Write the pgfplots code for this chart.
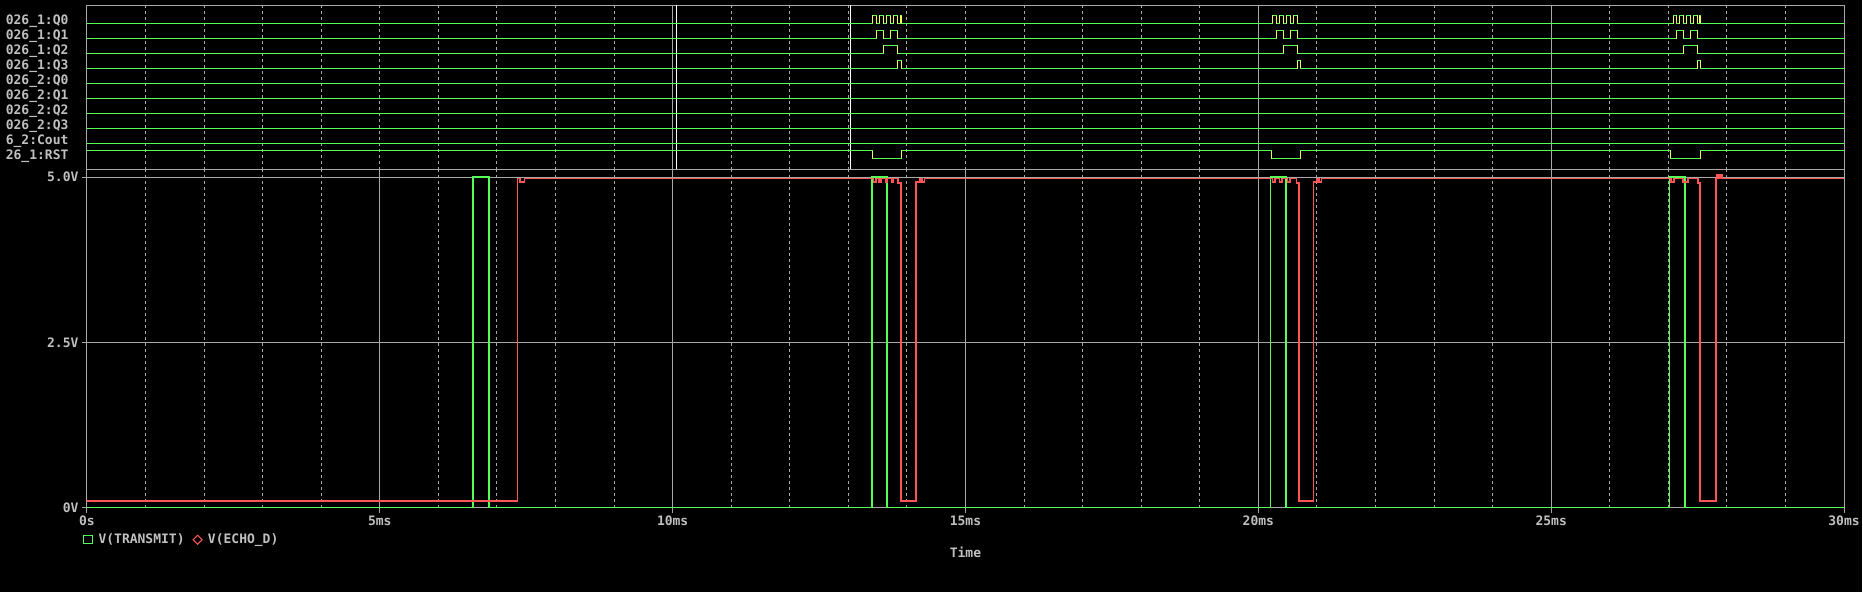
\documentclass[border=0pt]{standalone}
\usepackage{pgfplots}
\pgfplotsset{compat=1.18}
\usepackage{pgfplotstable}
\usepackage{fontspec}
\setmainfont{DejaVu Sans Mono}
\definecolor{tgreen}{RGB}{85,255,85}
\definecolor{tred}{RGB}{255,85,85}
\definecolor{tyellow}{RGB}{240,255,80}
\definecolor{tgray}{RGB}{168,168,168}
\definecolor{tlabel}{RGB}{192,192,192}

% digital signals: time (ms) and row level (picture rows)
\pgfplotstableread[row sep=\\]{t y\\
0 23.3\\ 13.418 15.3\\ 13.481 23.3\\ 13.538 15.3\\ 13.606 23.3\\ 13.657 15.3\\ 13.720 23.3\\ 13.777 15.3\\ 13.840 23.3\\ 13.896 15.3\\ 13.908 23.3\\
20.244 15.3\\ 20.312 23.3\\ 20.364 15.3\\ 20.432 23.3\\ 20.483 15.3\\ 20.551 23.3\\ 20.602 15.3\\ 20.660 23.3\\
27.087 15.3\\ 27.138 23.3\\ 27.190 15.3\\ 27.258 23.3\\ 27.309 15.3\\ 27.377 23.3\\ 27.429 15.3\\ 27.497 23.3\\ 27.540 15.3\\ 27.548 23.3\\ 30 23.3\\}\qzero
\pgfplotstableread[row sep=\\]{t y\\
0 38.3\\ 13.481 30.3\\ 13.606 38.3\\ 13.720 30.3\\ 13.840 38.3\\
20.312 30.3\\ 20.432 38.3\\ 20.551 30.3\\ 20.660 38.3\\
27.138 30.3\\ 27.258 38.3\\ 27.377 30.3\\ 27.497 38.3\\ 30 38.3\\}\qone
\pgfplotstableread[row sep=\\]{t y\\
0 53.3\\ 13.606 45.3\\ 13.840 53.3\\ 20.432 45.3\\ 20.660 53.3\\ 27.258 45.3\\ 27.497 53.3\\ 30 53.3\\}\qtwo
\pgfplotstableread[row sep=\\]{t y\\
0 68.3\\ 13.840 60.3\\ 13.908 68.3\\ 20.660 60.3\\ 20.712 68.3\\ 27.497 60.3\\ 27.548 68.3\\ 30 68.3\\}\qthree
\pgfplotstableread[row sep=\\]{t y\\
0 150.7\\ 13.418 158.3\\ 13.913 150.7\\ 20.227 158.3\\ 20.712 150.7\\ 27.036 158.3\\ 27.548 150.7\\ 30 150.7\\}\rst

% analog signals
\pgfplotstableread[row sep=\\]{t v\\
0 0\\ 6.59 0\\ 6.59 5\\ 6.87 5\\ 6.87 0\\ 13.40 0\\ 13.40 5\\ 13.66 5\\ 13.66 0\\
20.21 0\\ 20.21 5\\ 20.47 5\\ 20.47 0\\ 27.02 0\\ 27.02 5\\ 27.28 5\\ 27.28 0\\ 30 0\\}\transmit
\pgfplotstableread[row sep=\\]{t v\\
0 0.1\\ 7.35 0.1\\ 7.35 4.98\\ 7.39 4.98\\ 7.39 4.93\\ 7.47 4.93\\ 7.47 4.98\\
13.43 4.98\\ 13.43 4.93\\ 13.47 4.93\\ 13.47 4.98\\ 13.52 4.98\\ 13.52 4.93\\ 13.56 4.93\\ 13.56 4.98\\
13.64 4.98\\ 13.64 4.93\\ 13.67 4.93\\ 13.67 4.98\\ 13.74 4.98\\ 13.74 4.93\\ 13.77 4.93\\ 13.77 4.98\\
13.85 4.98\\ 13.85 4.91\\ 13.90 4.91\\ 13.90 0.1\\ 14.16 0.1\\ 14.16 4.93\\ 14.22 4.93\\ 14.22 4.98\\ 14.26 4.98\\ 14.26 4.93\\ 14.30 4.93\\ 14.30 4.98\\
20.24 4.98\\ 20.24 4.93\\ 20.28 4.93\\ 20.28 4.98\\ 20.36 4.98\\ 20.36 4.93\\ 20.40 4.93\\ 20.40 4.98\\ 20.50 4.98\\ 20.50 4.93\\ 20.54 4.93\\ 20.54 4.98\\
20.65 4.98\\ 20.65 4.91\\ 20.69 4.91\\ 20.69 0.1\\ 20.94 0.1\\ 20.94 4.93\\ 21.00 4.93\\ 21.00 4.98\\ 21.04 4.98\\ 21.04 4.93\\ 21.08 4.93\\ 21.08 4.98\\
27.05 4.98\\ 27.05 4.93\\ 27.10 4.93\\ 27.10 4.98\\ 27.25 4.98\\ 27.25 4.93\\ 27.33 4.93\\ 27.33 4.98\\
27.51 4.98\\ 27.51 4.91\\ 27.54 4.91\\ 27.54 0.1\\ 27.81 0.1\\ 27.81 4.98\\ 27.83 4.98\\ 27.83 5.03\\ 27.86 5.03\\ 27.86 4.98\\ 27.89 4.98\\ 27.89 5.03\\ 27.92 5.03\\ 27.92 4.98\\ 30 4.98\\}\echo

\begin{document}
\begin{tikzpicture}[x=1pt,y=1pt,font=\fontsize{13}{15}\selectfont\bfseries]
\fill[black] (0,0) rectangle (1863,592);
% ---------------- digital panel ----------------
\begin{axis}[
  at={(87pt,422pt)}, anchor=south west, scale only axis,
  width=1758pt, height=164.7pt,
  xmin=0, xmax=30, ymin=5.3, ymax=170, y dir=reverse,
  axis line style={tgray, line width=1pt},
  xtick={10,20,25}, xticklabels={},
  minor xtick={1,2,3,4,5,6,7,8,9,11,12,13,14,15,16,17,18,19,21,22,23,24,26,27,28,29},
  major tick length=0pt, minor tick length=0pt,
  xmajorgrids, xminorgrids,
  major grid style={tgray, line width=1pt},
  minor grid style={tgray, line width=1pt, dash pattern=on 3pt off 3pt},
  ytick={19.5,34.5,49.5,64.5,79.5,94.5,109.5,124.5,139.5,154.5},
  yticklabels={026\_1:Q0,026\_1:Q1,026\_1:Q2,026\_1:Q3,026\_2:Q0,026\_2:Q1,026\_2:Q2,026\_2:Q3,6\_2:Cout,26\_1:RST},
  yticklabel style={text=tlabel, font=\fontsize{13}{15}\selectfont\bfseries, anchor=base east, xshift=-15pt, yshift=-4.75pt},
]
\addplot[white, line width=1pt] coordinates {(10.06,5.3) (10.06,170)};
\addplot[white, line width=1pt] coordinates {(13.04,5.3) (13.04,170)};
\addplot[tyellow, line width=1pt, const plot] table {\qzero};
\addplot[tgreen, line width=1pt, jump mark left] table {\qzero};
\addplot[tyellow, line width=1pt, const plot] table {\qone};
\addplot[tgreen, line width=1pt, jump mark left] table {\qone};
\addplot[tyellow, line width=1pt, const plot] table {\qtwo};
\addplot[tgreen, line width=1pt, jump mark left] table {\qtwo};
\addplot[tyellow, line width=1pt, const plot] table {\qthree};
\addplot[tgreen, line width=1pt, jump mark left] table {\qthree};
\addplot[tgreen, line width=1pt] coordinates {(0,83.3) (30,83.3)};
\addplot[tgreen, line width=1pt] coordinates {(0,98.3) (30,98.3)};
\addplot[tgreen, line width=1pt] coordinates {(0,113.3) (30,113.3)};
\addplot[tgreen, line width=1pt] coordinates {(0,128.3) (30,128.3)};
\addplot[tgreen, line width=1pt] coordinates {(0,143.3) (30,143.3)};
\addplot[tyellow, line width=1pt, const plot] table {\rst};
\addplot[tgreen, line width=1pt, jump mark left] table {\rst};
\end{axis}
% ---------------- analog panel ----------------
\begin{axis}[
  at={(87pt,84pt)}, anchor=south west, scale only axis,
  width=1758pt, height=338pt,
  xmin=0, xmax=30, ymin=0, ymax=5.11,
  axis line style={tgray, line width=1pt},
  tick style={tgray, line width=1pt},
  tick align=outside, major tick length=5pt, minor tick length=0pt,
  xtick pos=left, ytick pos=left,
  xtick={0,5,10,15,20,25,30},
  xticklabels={0s,5ms,10ms,15ms,20ms,25ms,30ms},
  minor xtick={1,2,3,4,6,7,8,9,11,12,13,14,16,17,18,19,21,22,23,24,26,27,28,29},
  ytick={0,2.5,5}, yticklabels={0V,2.5V,5.0V},
  xmajorgrids, xminorgrids, ymajorgrids,
  major grid style={tgray, line width=1pt},
  minor grid style={tgray, line width=1pt, dash pattern=on 3pt off 3pt},
  ticklabel style={text=tlabel, font=\fontsize{13}{15}\selectfont\bfseries},
  xlabel={Time},
  every axis x label/.style={at={(axis description cs:0.5,0)}, anchor=center, yshift=-45pt, text=tlabel},
  legend columns=2,
  legend style={draw=none, fill=none, inner sep=0pt, outer sep=0pt,
    at={(axis description cs:0,0)}, anchor=west, xshift=-3.5pt, yshift=-32pt,
    text=tlabel, font=\fontsize{13}{15}\selectfont\bfseries,
    /tikz/every even column/.append style={column sep=6pt}},
  legend cell align=left,
]
\addplot[tgreen, line width=1.7pt, forget plot] table {\transmit};
\addplot[tred, line width=1.7pt, forget plot] table {\echo};
\addlegendimage{legend image code/.code={\draw[tgreen, line width=1pt] (-4.2pt,-4.2pt) rectangle (4.2pt,4.2pt); \path (8.2pt,0pt);}}
\addlegendentry{V(TRANSMIT)}
\addlegendimage{legend image code/.code={\draw[tred, line width=1pt] (-4.5pt,0pt) -- (0pt,4.5pt) -- (4.5pt,0pt) -- (0pt,-4.5pt) -- cycle; \path (8.2pt,0pt);}}
\addlegendentry{V(ECHO\_D)}
\end{axis}
\end{tikzpicture}
\end{document}
